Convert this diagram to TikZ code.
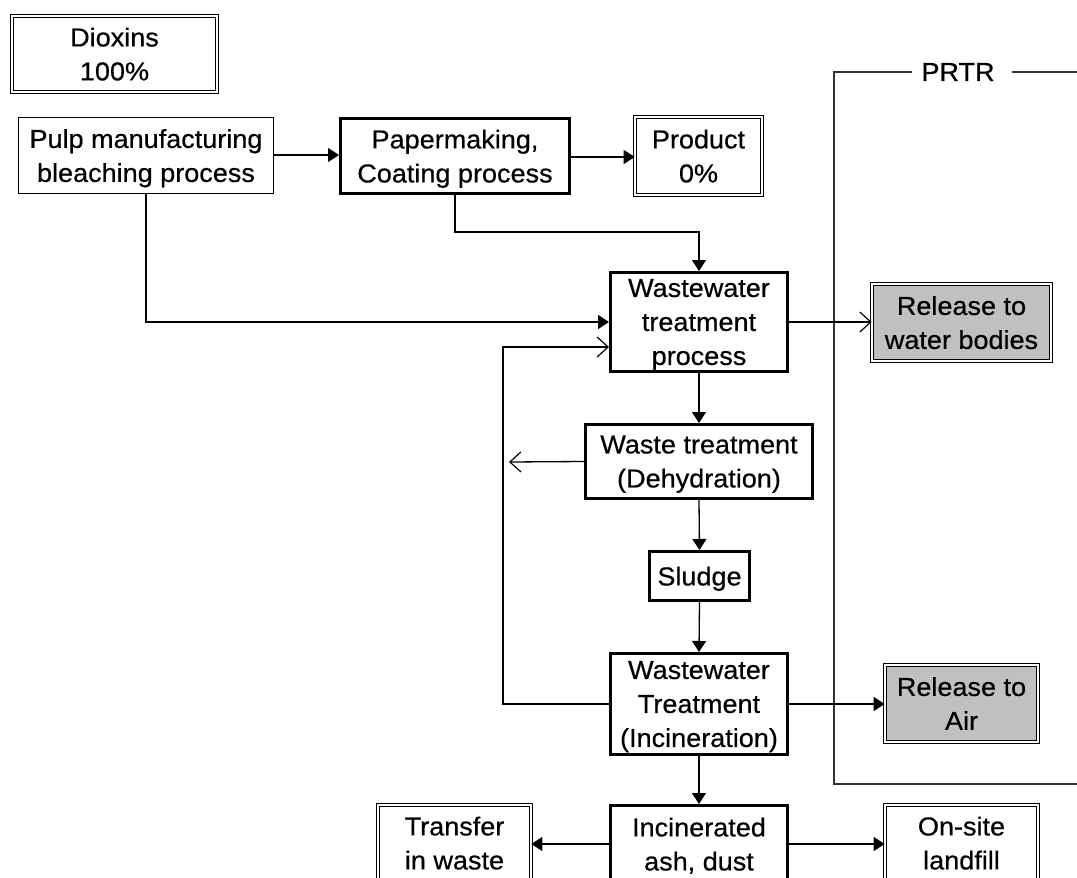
\documentclass[tikz,border=0pt]{standalone}
\usepackage{fontspec}
\setmainfont{Liberation Sans}[FakeStretch=1.04, FakeBold=0.5]
\usetikzlibrary{arrows.meta}
\definecolor{relgray}{HTML}{C0C0C0}
\definecolor{bracket}{HTML}{333333}

\begin{document}
\begin{tikzpicture}[x=1pt,y=-1pt,
  every node/.style={font=\fontsize{26}{34}\selectfont, align=center, inner sep=0pt},
  % a fixed (negative) depth puts the last baseline at the same place in every box
  boxtext/.style={text depth=-8pt},
  plainbox/.style={boxtext, draw, line width=1.3pt, fill=white},
  thickbox/.style={boxtext, draw, line width=3pt, fill=white},
  dblbox/.style={boxtext, draw, double=white, line width=1pt, double distance=2.4pt, fill=white},
  relbox/.style={dblbox, fill=relgray},
  flow/.style={line width=1.3pt, -{Triangle[length=11pt,width=14pt]}},
  backflow/.style={line width=1.3pt, -{Straight Barb[length=11pt,width=20pt,line width=1.2pt]}},
  frame/.style={line width=1.3pt, draw=bracket}]

\useasboundingbox (0,0) rectangle (1077,878);
\clip (0,0) rectangle (1077,878);

% process boxes
\node[dblbox, minimum width=204.6pt, minimum height=75.6pt] (dioxins) at (114.5,54) {Dioxins\\100\%};
\node[plainbox, minimum width=254.7pt, minimum height=75.7pt] (pulp) at (146,155.5) {Pulp manufacturing\\bleaching process};
\node[thickbox, minimum width=229pt, minimum height=75pt] (paper) at (455,156) {Papermaking,\\Coating process};
\node[dblbox, minimum width=126.6pt, minimum height=77.6pt] (product) at (698.5,156) {Product\\0\%};
\node[thickbox, minimum width=177pt, minimum height=99pt] (ww) at (699,322) {Wastewater\\treatment\\process};
\node[thickbox, minimum width=227pt, minimum height=74pt] (waste) at (699,461.5) {Waste treatment\\(Dehydration)};
\node[thickbox, minimum width=100pt, minimum height=49pt] (sludge) at (699.5,576) {Sludge};
\node[thickbox, minimum width=177pt, minimum height=101pt] (inc) at (699,704) {Wastewater\\Treatment\\(Incineration)};
\node[thickbox, minimum width=177pt, minimum height=77pt] (ash) at (699,844) {Incinerated\\ash, dust};
\node[dblbox, minimum width=152.6pt, minimum height=76pt] (transfer) at (454.5,843) {Transfer\\in waste};
\node[dblbox, minimum width=152.6pt, minimum height=76pt] (landfill) at (961.5,843) {On-site\\landfill};

% release boxes inside the PRTR frame
\node[relbox, minimum width=178.6pt, minimum height=76.6pt] (relw) at (961.5,322.5) {Release to\\water bodies};
\node[relbox, minimum width=152.6pt, minimum height=76.6pt] (rela) at (961.5,703.5) {Release to\\Air};

% PRTR frame
\node (prtr) at (958,72) {PRTR};
\coordinate (fl) at (912,72);
\coordinate (fr) at (1012,72);
\coordinate (ftl) at (834,72);
\coordinate (fbl) at (834,784);
\coordinate (fbr) at (1077,784);
\coordinate (ftr) at (1077,72);
\draw[frame] (fl) -- (ftl) -- (fbl) -- (fbr);
\draw[frame] (fr) -- (ftr);

% main flow
\draw[flow] (pulp.east |- 0,155) -- (paper.west |- 0,155);
\draw[flow] (paper.east |- 0,157) -- (product.west |- 0,157);
\draw[flow] (paper.south) -- (paper.south |- 0,232) -| (ww.north);
\draw[flow] (pulp.south) |- (ww.west);
\draw[flow] (ww.south) -- (waste.north);
\draw[flow] (waste.south) -- (sludge.north);
\draw[flow] (sludge.south) -- (inc.north);
\draw[flow] (inc.east) -- (rela.west |- inc.east);
\draw[flow] (inc.south) -- (ash.north);
\draw[flow] (ash.west) -- (transfer.east |- ash.west);
\draw[flow] (ash.east) -- (landfill.west |- ash.east);

% return flows
\coordinate (loop) at (503,347);
\coordinate (dewater) at (509,462);
\draw[backflow] (inc.west) -| (loop) -- (ww.west |- loop);
\draw[backflow] (waste.west) -- (dewater);
\draw[backflow] (ww.east) -- (relw.west |- ww.east);

\end{tikzpicture}
\end{document}
